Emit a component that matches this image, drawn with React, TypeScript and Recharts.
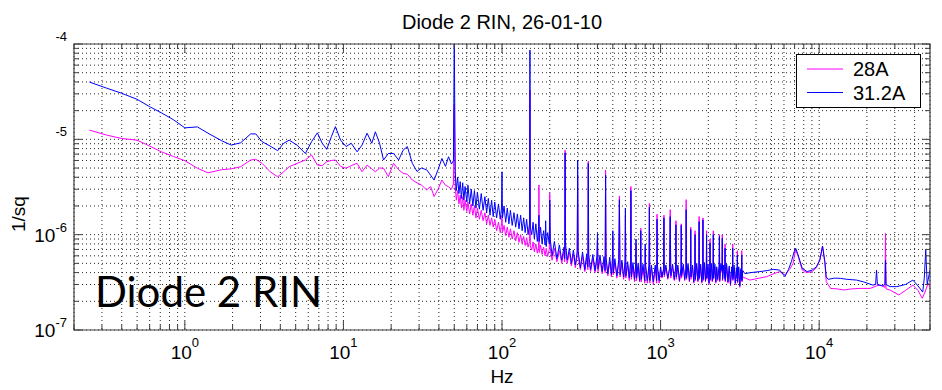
import React from "react";
import { LineChart, Line, XAxis, YAxis, CartesianGrid, ReferenceArea } from "recharts";

const W = 942;
const H = 390;
const M = { top: 44, right: 12, bottom: 59, left: 73 };
const PLOT_W = 856;
const PLOT_H = 286;

const seriesNames = ["28A", "31.2A"];
const seriesColors = ["#ff00ff", "#0000ff"];

const xTicks = [
  0.2, 0.3, 0.4, 0.5, 0.6, 0.7, 0.8, 0.9,
  1, 2, 3, 4, 5, 6, 7, 8, 9,
  10, 20, 30, 40, 50, 60, 70, 80, 90,
  100, 200, 300, 400, 500, 600, 700, 800, 900,
  1000, 2000, 3000, 4000, 5000, 6000, 7000, 8000, 9000,
  10000, 20000, 30000, 40000, 50000,
];
const xDecades = [1, 10, 100, 1000, 10000];
const xDecadeExp = ["0", "1", "2", "3", "4"];

const yTicks = [
  1e-7, 2e-7, 3e-7, 4e-7, 5e-7, 6e-7, 7e-7, 8e-7, 9e-7,
  1e-6, 2e-6, 3e-6, 4e-6, 5e-6, 6e-6, 7e-6, 8e-6, 9e-6,
  1e-5, 2e-5, 3e-5, 4e-5, 5e-5, 6e-5, 7e-5, 8e-5, 9e-5,
  1e-4,
];
const yDecades = [1e-7, 1e-6, 1e-5, 1e-4];
// the "10" of the two upper labels is hidden in the original figure
const yDecadeBase = ["10", "10", "", ""];
const yDecadeExp = ["-7", "-6", "-5", "-4"];

// [Hz, 1/sqrt(Hz)]
const rin28Low = [
  [0.25, 1.25e-5], [0.32, 1.11e-5], [0.4, 1.02e-5], [0.5, 9.8e-6], [0.6, 8.5e-6], [0.71, 7.4e-6],
  [0.85, 6.6e-6], [1.0, 5.97e-6], [1.2, 4.97e-6], [1.4, 4.45e-6], [1.7, 4.8e-6], [1.96, 4.9e-6],
  [2.25, 5.16e-6], [2.6, 6.07e-6], [2.8, 6.17e-6], [3.07, 5.6e-6], [3.45, 4.57e-6], [3.85, 4.05e-6],
  [4.2, 4.57e-6], [4.55, 5.16e-6], [5.1, 5.6e-6], [5.75, 6.07e-6], [6.3, 6.85e-6], [6.85, 5.37e-6],
  [7.35, 5.3e-6], [7.85, 5.82e-6], [8.4, 6.0e-6], [8.9, 6.07e-6], [9.6, 5.2e-6], [10.4, 4.97e-6],
  [11.2, 5.3e-6], [12.2, 5.6e-6], [13.1, 4.57e-6], [14.1, 5.37e-6], [15.1, 4.9e-6], [15.9, 4.57e-6],
  [16.9, 5.0e-6], [17.9, 4.97e-6], [19.2, 4.05e-6], [20.7, 5.6e-6], [22.3, 4.8e-6], [23.8, 4.4e-6],
  [25.3, 4.3e-6], [27.2, 3.74e-6], [29.1, 3.5e-6], [31, 3.32e-6], [33.5, 2.95e-6], [35.5, 3.2e-6],
  [37.3, 2.51e-6], [39.5, 3.0e-6], [41.8, 3.74e-6], [44, 3.3e-6], [46, 3.18e-6], [48, 3.0e-6],
  [49.4, 3.4e-6],
];
const rin28Mid = [
  [50, 2.29e-5], [50.7, 3.2e-6], [51.5, 2.3e-6], [52.5, 2.9e-6], [53.5, 2.1e-6], [54.5, 2.6e-6],
  [55.5, 1.9e-6], [56.5, 2.5e-6], [57.5, 1.8e-6], [58.5, 2.3e-6], [60, 1.75e-6], [61, 2.2e-6],
  [62.5, 1.65e-6], [64, 2.1e-6], [65.5, 1.6e-6], [67, 2.0e-6], [68.5, 1.5e-6], [70, 1.9e-6],
  [72, 1.45e-6], [74, 1.8e-6], [76, 1.4e-6], [78, 1.7e-6], [80, 1.3e-6], [82, 1.6e-6],
  [84, 1.25e-6], [86, 1.5e-6], [88, 1.2e-6], [90, 1.45e-6], [92.5, 1.1e-6], [95, 1.35e-6],
  [97.5, 1.05e-6], [99.3, 1.3e-6], [100, 1.6e-6], [100.7, 1.05e-6], [103, 1.25e-6], [105.5, 9.8e-7],
  [108, 1.2e-6], [110.5, 9.4e-7], [113, 1.15e-6], [116, 9.0e-7], [119, 1.1e-6], [122, 8.6e-7],
  [125, 1.05e-6], [128, 8.3e-7], [131, 1.0e-6], [134, 8.0e-7], [137, 9.6e-7], [140, 7.7e-7],
  [143, 9.3e-7], [146, 7.4e-7], [149.2, 8.5e-7], [150, 3.3e-5], [150.8, 7.6e-7], [154, 6.9e-7],
  [157, 8.4e-7], [160, 6.6e-7], [163.5, 8.0e-7], [167, 6.4e-7], [170.3, 7.6e-7], [171, 3.32e-6],
  [171.7, 6.5e-7], [175, 7.8e-7], [179, 6.2e-7], [183, 7.4e-7], [187, 6.0e-7], [190, 7.2e-7],
  [194, 5.9e-7], [198.8, 7.0e-7],
];
const rin28High = [
  [200, 2.72e-6], [201.5, 7.0e-7], [207, 5.4e-7], [214, 7.2e-7], [222, 5.2e-7], [230, 6.8e-7],
  [238, 5.0e-7], [246, 6.6e-7], [248.5, 5.2e-7], [250, 7.7e-6], [251.5, 6.8e-7], [258, 5.0e-7],
  [266, 6.5e-7], [274, 4.7e-7], [282, 6.3e-7], [290, 4.5e-7], [298, 6.0e-7], [300, 4.23e-6],
  [302, 6.0e-7], [312, 4.3e-7], [322, 5.9e-7], [333, 4.1e-7], [342, 5.7e-7], [348, 4.3e-7],
  [350, 5.9e-6], [352, 5.6e-7], [362, 4.1e-7], [374, 5.6e-7], [386, 4.0e-7], [397, 5.4e-7],
  [400, 8.8e-7], [403, 4.1e-7], [415, 5.5e-7], [428, 3.9e-7], [440, 5.3e-7], [447, 4.0e-7],
  [450, 4.77e-6], [453, 5.3e-7], [465, 3.7e-7], [478, 5.2e-7], [490, 3.6e-7], [497, 5.1e-7],
  [500, 9.5e-7], [503, 3.8e-7], [515, 5.1e-7], [530, 3.5e-7], [545, 5.0e-7], [550, 2.55e-6],
  [555, 3.6e-7], [570, 4.9e-7], [585, 3.4e-7], [597, 4.8e-7], [600, 1.6e-6], [604, 3.5e-7],
  [620, 4.8e-7], [635, 3.3e-7], [646, 4.7e-7], [650, 3.2e-6], [654, 3.4e-7], [670, 4.6e-7],
  [685, 3.2e-7], [697, 4.6e-7], [700, 8.0e-7], [705, 3.3e-7], [722, 4.6e-7], [738, 3.2e-7],
  [746, 4.5e-7], [750, 1.17e-6], [755, 3.2e-7], [775, 4.5e-7], [795, 3.1e-7], [800, 7.0e-7],
  [805, 4.4e-7], [825, 3.1e-7], [845, 4.4e-7], [850, 2.13e-6], [855, 3.1e-7], [875, 4.4e-7],
  [900, 3.0e-7], [925, 4.4e-7], [945, 3.1e-7], [950, 1.64e-6], [955, 4.3e-7], [980, 3.1e-7],
  [1000, 4.3e-7], [1020, 3.5e-7], [1045, 4.2e-7], [1050, 1.6e-6], [1055, 3.6e-7], [1080, 4.5e-7],
  [1110, 3.4e-7], [1140, 4.3e-7], [1150, 1.83e-6], [1160, 3.5e-7], [1190, 4.6e-7], [1220, 3.3e-7],
  [1245, 4.4e-7], [1250, 1.4e-6], [1256, 3.4e-7], [1285, 4.5e-7], [1315, 3.2e-7], [1345, 4.3e-7],
  [1350, 1.3e-6], [1356, 3.5e-7], [1390, 4.6e-7], [1420, 3.3e-7], [1444, 4.2e-7], [1450, 2.33e-6],
  [1457, 3.4e-7], [1490, 4.7e-7], [1520, 3.2e-7], [1545, 4.4e-7], [1550, 1.2e-6], [1556, 3.4e-7],
  [1590, 4.5e-7], [1620, 3.1e-7], [1644, 4.4e-7], [1650, 1.1e-6], [1657, 3.3e-7], [1690, 4.7e-7],
  [1720, 3.2e-7], [1744, 4.4e-7], [1750, 1.55e-6], [1757, 3.4e-7], [1790, 4.6e-7], [1820, 3.1e-7],
  [1843, 4.3e-7], [1850, 1.5e-6], [1858, 3.3e-7], [1890, 4.8e-7], [1920, 3.2e-7], [1943, 4.4e-7],
  [1950, 1.1e-6], [1958, 3.4e-7], [1990, 4.6e-7], [2020, 3.0e-7], [2043, 4.4e-7], [2050, 9.0e-7],
  [2058, 3.3e-7], [2090, 4.7e-7], [2120, 3.2e-7], [2142, 4.5e-7], [2150, 1.1e-6], [2160, 3.4e-7],
  [2200, 4.6e-7], [2230, 3.1e-7], [2260, 4.4e-7], [2290, 3.3e-7], [2340, 4.5e-7], [2350, 1.0e-6],
  [2360, 3.2e-7], [2400, 4.7e-7], [2440, 4.0e-7], [2450, 1.0e-6], [2460, 3.3e-7], [2500, 4.6e-7],
  [2540, 3.4e-7], [2550, 8.0e-7], [2560, 3.2e-7], [2610, 4.6e-7], [2660, 3.1e-7], [2710, 4.5e-7],
  [2760, 2.9e-7], [2810, 4.4e-7], [2840, 3.5e-7], [2850, 8.0e-7], [2860, 3.3e-7], [2910, 4.5e-7],
  [2960, 3.0e-7], [3010, 4.3e-7], [3040, 3.4e-7], [3050, 6.8e-7], [3060, 3.1e-7], [3110, 4.4e-7],
  [3160, 2.8e-7], [3210, 4.2e-7], [3240, 3.3e-7], [3250, 6.8e-7], [3260, 3.2e-7], [3300, 3.6e-7],
];
const rin28Tail = [
  [3660, 3.34e-7], [4200, 3.5e-7], [4670, 3.63e-7], [5200, 3.9e-7], [5640, 4.1e-7], [6080, 3.79e-7],
  [6500, 4.3e-7], [6840, 4.97e-7], [7110, 7.0e-7], [7400, 5.8e-7], [7820, 4.25e-7], [8400, 4.0e-7],
  [9030, 4.1e-7], [9600, 4.5e-7], [10100, 5.4e-7], [10500, 7.6e-7], [10870, 5.0e-7], [11080, 3.22e-7],
  [11800, 2.73e-7], [13000, 2.7e-7], [14300, 2.63e-7], [16000, 2.7e-7], [18100, 2.73e-7], [21000, 2.73e-7],
  [23000, 2.9e-7], [24300, 2.96e-7], [26000, 2.8e-7], [26200, 1.03e-6], [26400, 2.7e-7], [27900, 2.63e-7],
  [31800, 2.33e-7], [35000, 2.6e-7], [39000, 2.96e-7], [42000, 2.6e-7], [44700, 2.15e-7], [46500, 2.5e-7],
  [48700, 3.1e-7], [50000, 2.8e-7],
];

const rin31Low = [
  [0.25, 3.99e-5], [0.32, 3.45e-5], [0.4, 3.04e-5], [0.5, 2.63e-5], [0.6, 2.2e-5], [0.71, 1.9e-5],
  [0.85, 1.6e-5], [1.0, 1.32e-5], [1.2, 1.35e-5], [1.4, 1.16e-5], [1.7, 9.7e-6], [1.96, 8.7e-6],
  [2.25, 9.2e-6], [2.6, 1.14e-5], [2.8, 1.14e-5], [3.07, 9.45e-6], [3.45, 8.5e-6], [3.85, 7.6e-6],
  [4.2, 9.1e-6], [4.55, 9.8e-6], [5.1, 8.7e-6], [5.75, 7.1e-6], [6.3, 9.45e-6], [6.85, 1.17e-5],
  [7.35, 9.1e-6], [7.85, 7.85e-6], [8.4, 1.07e-5], [8.9, 1.36e-5], [9.6, 9.8e-6], [10.4, 8.4e-6],
  [11.2, 9.1e-6], [12.2, 7.4e-6], [13.1, 8.7e-6], [14.1, 1.16e-5], [15.1, 9.1e-6], [15.9, 1.2e-5],
  [16.9, 9.1e-6], [17.9, 6.07e-6], [19.2, 7.1e-6], [20.7, 7.1e-6], [22.3, 6.07e-6], [23.8, 7.7e-6],
  [25.3, 8.4e-6], [27.2, 5.6e-6], [29.1, 4.6e-6], [31, 5.0e-6], [33.5, 4.79e-6], [35.5, 4.2e-6],
  [37.3, 3.74e-6], [39.5, 4.8e-6], [41.8, 6.3e-6], [44, 5.2e-6], [46, 6.57e-6], [48, 5.5e-6],
  [49.4, 6.0e-6],
];
const rin31Mid = [
  [50, 1.2e-4], [50.7, 4.6e-6], [51.5, 2.9e-6], [52.5, 4.0e-6], [53.5, 2.7e-6], [54.5, 3.6e-6],
  [55.5, 2.4e-6], [56.5, 3.5e-6], [57.5, 2.3e-6], [58.5, 3.2e-6], [60, 2.2e-6], [61, 3.3e-6],
  [62.5, 2.1e-6], [64, 3.0e-6], [65.5, 2.0e-6], [67, 2.9e-6], [68.5, 1.9e-6], [70, 2.8e-6],
  [72, 1.85e-6], [74, 2.7e-6], [76, 1.8e-6], [78, 2.5e-6], [80, 1.7e-6], [82, 2.4e-6],
  [84, 1.6e-6], [86, 2.3e-6], [88, 1.55e-6], [90, 2.2e-6], [92.5, 1.5e-6], [95, 2.1e-6],
  [97.5, 1.45e-6], [99.3, 1.9e-6], [100, 4.57e-6], [100.7, 1.5e-6], [103, 2.0e-6], [105.5, 1.35e-6],
  [108, 1.9e-6], [110.5, 1.3e-6], [113, 1.8e-6], [116, 1.25e-6], [119, 1.7e-6], [122, 1.2e-6],
  [125, 1.65e-6], [128, 1.15e-6], [131, 1.6e-6], [134, 1.1e-6], [137, 1.5e-6], [140, 1.05e-6],
  [143, 1.45e-6], [146, 1.0e-6], [149.2, 1.3e-6], [150, 8.65e-5], [150.8, 1.2e-6], [154, 1.0e-6],
  [157, 1.35e-6], [160, 9.0e-7], [163.5, 1.3e-6], [167, 8.5e-7], [170.3, 1.2e-6], [171, 1.6e-6],
  [171.7, 8.5e-7], [175, 1.2e-6], [179, 8.0e-7], [183, 1.1e-6], [187, 7.8e-7], [188.5, 1.4e-6],
  [190, 7.5e-7], [194, 1.05e-6], [198.8, 8.0e-7],
];
const rin31High = [
  [200, 2.3e-6], [201.5, 9.0e-7], [207, 6.0e-7], [214, 8.5e-7], [222, 5.6e-7], [230, 7.8e-7],
  [238, 5.4e-7], [246, 7.4e-7], [248.5, 5.6e-7], [250, 7.2e-6], [251.5, 8.0e-7], [258, 5.4e-7],
  [266, 7.2e-7], [274, 5.0e-7], [282, 6.9e-7], [290, 4.8e-7], [298, 6.6e-7], [300, 6.07e-6],
  [302, 6.8e-7], [312, 4.5e-7], [322, 6.6e-7], [333, 4.3e-7], [342, 6.3e-7], [348, 4.6e-7],
  [350, 5.6e-6], [352, 6.2e-7], [362, 4.3e-7], [374, 6.2e-7], [386, 4.2e-7], [397, 6.0e-7],
  [400, 1.03e-6], [403, 4.4e-7], [415, 6.1e-7], [428, 4.1e-7], [440, 5.9e-7], [447, 4.2e-7],
  [450, 4.23e-6], [453, 5.8e-7], [465, 3.9e-7], [478, 5.8e-7], [490, 3.8e-7], [497, 5.6e-7],
  [500, 1.1e-6], [503, 4.0e-7], [515, 5.6e-7], [530, 3.7e-7], [545, 5.5e-7], [550, 2.33e-6],
  [555, 3.8e-7], [570, 5.4e-7], [585, 3.6e-7], [597, 5.3e-7], [600, 1.9e-6], [604, 3.7e-7],
  [620, 5.2e-7], [635, 3.5e-7], [646, 5.1e-7], [650, 2.9e-6], [654, 3.6e-7], [670, 5.1e-7],
  [685, 3.4e-7], [697, 5.0e-7], [700, 9.0e-7], [705, 3.5e-7], [722, 5.0e-7], [738, 3.3e-7],
  [746, 4.9e-7], [750, 1.1e-6], [755, 3.4e-7], [775, 4.9e-7], [795, 3.3e-7], [800, 8.0e-7],
  [805, 4.8e-7], [825, 3.3e-7], [845, 4.8e-7], [850, 1.95e-6], [855, 3.3e-7], [875, 4.8e-7],
  [900, 3.2e-7], [925, 4.8e-7], [945, 3.3e-7], [950, 1.45e-6], [955, 4.7e-7], [980, 3.3e-7],
  [1000, 4.6e-7], [1020, 3.6e-7], [1045, 4.4e-7], [1050, 1.5e-6], [1055, 3.8e-7], [1080, 4.8e-7],
  [1110, 3.5e-7], [1140, 4.5e-7], [1150, 1.55e-6], [1160, 3.7e-7], [1190, 4.9e-7], [1220, 3.4e-7],
  [1245, 4.6e-7], [1250, 1.27e-6], [1256, 3.6e-7], [1285, 4.8e-7], [1315, 3.3e-7], [1345, 4.5e-7],
  [1350, 1.25e-6], [1356, 3.7e-7], [1390, 4.9e-7], [1420, 3.4e-7], [1444, 4.4e-7], [1450, 1.83e-6],
  [1457, 3.5e-7], [1490, 5.0e-7], [1520, 3.3e-7], [1545, 4.6e-7], [1550, 1.13e-6], [1556, 3.6e-7],
  [1590, 4.8e-7], [1620, 3.2e-7], [1644, 4.7e-7], [1650, 1.0e-6], [1657, 3.4e-7], [1690, 5.0e-7],
  [1720, 3.3e-7], [1744, 4.6e-7], [1750, 1.37e-6], [1757, 3.5e-7], [1790, 4.9e-7], [1820, 3.2e-7],
  [1843, 4.5e-7], [1850, 1.43e-6], [1858, 3.4e-7], [1890, 5.1e-7], [1920, 3.3e-7], [1943, 4.7e-7],
  [1950, 1.0e-6], [1958, 3.5e-7], [1990, 4.9e-7], [2020, 3.1e-7], [2043, 4.6e-7], [2050, 8.2e-7],
  [2058, 3.4e-7], [2090, 5.0e-7], [2120, 3.3e-7], [2142, 4.7e-7], [2150, 1.0e-6], [2160, 3.5e-7],
  [2200, 4.9e-7], [2230, 3.2e-7], [2260, 4.6e-7], [2290, 3.4e-7], [2340, 4.7e-7], [2350, 9.6e-7],
  [2360, 3.3e-7], [2400, 5.0e-7], [2440, 4.2e-7], [2450, 9.2e-7], [2460, 3.4e-7], [2500, 4.8e-7],
  [2540, 3.5e-7], [2550, 7.2e-7], [2560, 3.3e-7], [2610, 4.9e-7], [2660, 3.2e-7], [2710, 4.7e-7],
  [2760, 3.0e-7], [2810, 4.6e-7], [2840, 3.6e-7], [2850, 7.2e-7], [2860, 3.4e-7], [2910, 4.8e-7],
  [2960, 3.1e-7], [3010, 4.5e-7], [3040, 3.5e-7], [3050, 6.1e-7], [3060, 3.2e-7], [3110, 4.6e-7],
  [3160, 2.9e-7], [3210, 4.4e-7], [3240, 3.4e-7], [3250, 6.1e-7], [3260, 3.3e-7], [3300, 4.2e-7],
];
const rin31Tail = [
  [3400, 3.9e-7], [3700, 4.0e-7], [4230, 4.1e-7], [4700, 4.2e-7], [5130, 4.33e-7], [5640, 4.25e-7],
  [6080, 3.63e-7], [6400, 4.3e-7], [6680, 5.2e-7], [6950, 6.6e-7], [7110, 7.2e-7], [7350, 6.2e-7],
  [7820, 4.43e-7], [8400, 4.1e-7], [9030, 4.25e-7], [9600, 4.6e-7], [10100, 5.42e-7], [10500, 7.6e-7],
  [10870, 5.2e-7], [11080, 3.6e-7], [11400, 3.4e-7], [12500, 3.5e-7], [13600, 3.48e-7], [15000, 3.4e-7],
  [17200, 3.34e-7], [19000, 3.2e-7], [21800, 2.96e-7], [22700, 3.0e-7], [23000, 4.25e-7], [23300, 3.0e-7],
  [25000, 2.9e-7], [26000, 3.0e-7], [26200, 5.4e-7], [26400, 3.0e-7], [28000, 2.85e-7], [30900, 2.85e-7],
  [35000, 3.0e-7], [39000, 3.34e-7], [42000, 2.9e-7], [45000, 2.5e-7], [46000, 3.5e-7], [47000, 6.9e-7],
  [48000, 3.0e-7], [50000, 4.25e-7],
];

const toRows = (pts: number[][]) => pts.map(([f, v]) => ({ f, v }));
const rows28 = toRows([...rin28Low, ...rin28Mid, ...rin28High, ...rin28Tail]);
const rows31 = toRows([...rin31Low, ...rin31Mid, ...rin31High, ...rin31Tail]);

const FONT = "'Liberation Sans', Arial, sans-serif";
const AXIS = "#404040";

function XTick(props: any) {
  const { x, y, payload } = props;
  const i = xDecades.indexOf(payload.value);
  const len = i >= 0 ? 9 : 5;
  return (
    <g>
      <line x1={x} x2={x} y1={y} y2={y - len} stroke={AXIS} />
      <line x1={x} x2={x} y1={y - PLOT_H} y2={y - PLOT_H + len} stroke={AXIS} />
      {i >= 0 && (
        <text x={x} y={y + 29} textAnchor="middle" fontFamily={FONT} fontSize={19} fill="#000">
          10
          <tspan dy={-12} fontSize={13}>{xDecadeExp[i]}</tspan>
        </text>
      )}
    </g>
  );
}

function YTick(props: any) {
  const { x, y, payload } = props;
  const i = yDecades.indexOf(payload.value);
  const len = i >= 0 ? 8 : 5;
  return (
    <g>
      <line x1={x} x2={x + len} y1={y} y2={y} stroke={AXIS} />
      <line x1={x + PLOT_W} x2={x + PLOT_W - len} y1={y} y2={y} stroke={AXIS} />
      {i >= 0 && (
        <text x={x - 7} y={y + 7} textAnchor="end" fontFamily={FONT} fontSize={19} fill="#000">
          {yDecadeBase[i]}
          <tspan dy={-10} fontSize={13}>{yDecadeExp[i]}</tspan>
        </text>
      )}
    </g>
  );
}

export default function App() {
  return (
    <div style={{ position: "absolute", left: 0, top: 0, width: W, height: H, background: "#fff" }}>
      <LineChart width={W} height={H} margin={M}>
        <CartesianGrid stroke="#000" strokeOpacity={0.85} strokeDasharray="1 3" strokeWidth={1} />
        <XAxis
          dataKey="f"
          type="number"
          scale="log"
          domain={[0.2, 50000]}
          allowDataOverflow
          ticks={xTicks}
          interval={0}
          tick={<XTick />}
          tickLine={false}
          axisLine={false}
          tickSize={0}
          tickMargin={0}
          height={1}
        />
        <YAxis
          type="number"
          scale="log"
          domain={[1e-7, 1e-4]}
          allowDataOverflow
          ticks={yTicks}
          interval={0}
          tick={<YTick />}
          tickLine={false}
          axisLine={false}
          tickSize={0}
          tickMargin={0}
          width={1}
        />
        <Line data={rows28} dataKey="v" name={seriesNames[0]} stroke={seriesColors[0]} strokeWidth={1} dot={false} isAnimationActive={false} />
        <Line data={rows31} dataKey="v" name={seriesNames[1]} stroke={seriesColors[1]} strokeWidth={1} dot={false} isAnimationActive={false} />
        <ReferenceArea x1={0.2} x2={50000} y1={1e-7} y2={1e-4} fill="none" stroke={AXIS} strokeWidth={1.2} />
      </LineChart>
      <svg width={W} height={H} style={{ position: "absolute", left: 0, top: 0, pointerEvents: "none" }}>
        <text x={502} y={29} textAnchor="middle" fontFamily={FONT} fontSize={20} fill="#000">
          Diode 2 RIN, 26-01-10
        </text>
        <text x={502} y={383} textAnchor="middle" fontFamily={FONT} fontSize={19} fill="#000">
          Hz
        </text>
        <text transform="translate(25,232) rotate(-90)" fontFamily={FONT} fontSize={19} fill="#000">
          1/sq
        </text>
        <text x={95} y={307} fontFamily="Lato, 'Open Sans', sans-serif" fontSize={42} fill="#000">
          Diode 2 RIN
        </text>
        <rect x={796.5} y={54.5} width={124} height={53} fill="#fff" stroke="#000" strokeWidth={1} />
        {seriesNames.map((name, i) => (
          <g key={name}>
            <line x1={807} x2={843} y1={69 + i * 23.5} y2={69 + i * 23.5} stroke={seriesColors[i]} strokeWidth={1} />
            <text x={853} y={76 + i * 23.5} fontFamily={FONT} fontSize={20} fill="#000">
              {name}
            </text>
          </g>
        ))}
      </svg>
    </div>
  );
}
